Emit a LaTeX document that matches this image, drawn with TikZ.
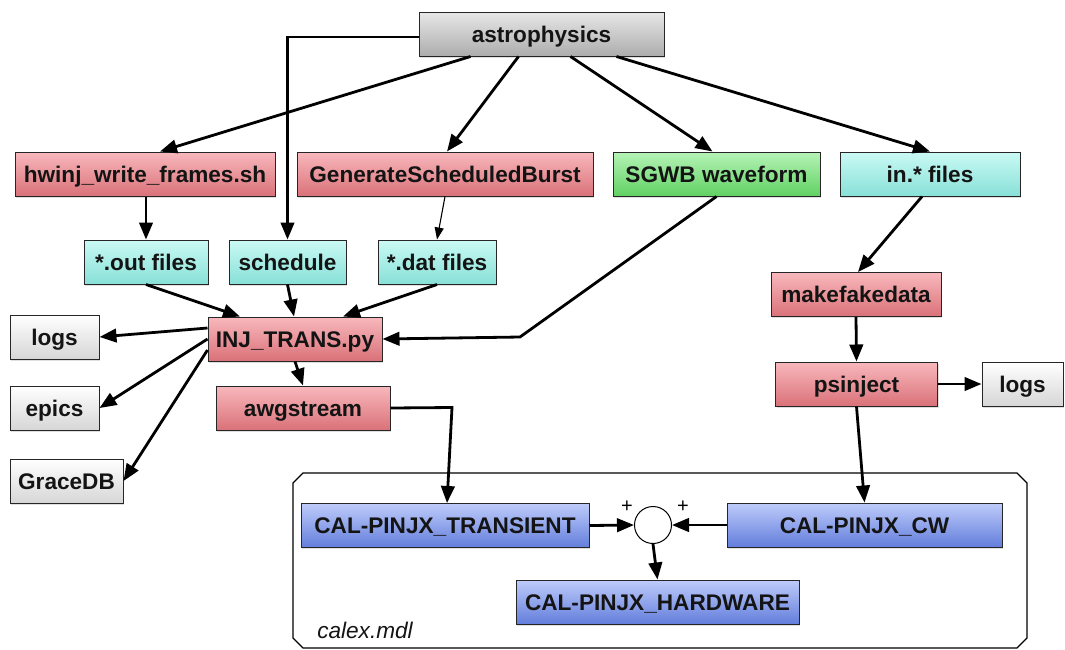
\documentclass[tikz,border=0pt]{standalone}
\usepackage{fontspec}
\setmainfont{Liberation Sans}
\usetikzlibrary{arrows.meta,calc,shadows}
\definecolor{cred}{RGB}{242,126,134}
\definecolor{ccyan}{RGB}{148,244,234}
\definecolor{cgreen}{RGB}{108,232,110}
\definecolor{cblue}{RGB}{110,140,244}
\definecolor{cgray}{RGB}{196,196,196}
\tikzset{
  box/.style={draw=black!85, line width=1pt, minimum height=44pt, inner sep=0pt,
    text height=20pt, text depth=4pt,
    font=\fontsize{22.6}{26}\selectfont\bfseries, text=black!92,
    drop shadow={shadow xshift=1pt,shadow yshift=-1.5pt,opacity=0.25}},
  redbox/.style={box, top color=cred!55!white, middle color=cred, bottom color=cred!90!black},
  cyanbox/.style={box, top color=ccyan!50!white, middle color=ccyan, bottom color=ccyan!92!black},
  greenbox/.style={box, top color=cgreen!50!white, middle color=cgreen, bottom color=cgreen!90!black},
  bluebox/.style={box, top color=cblue!45!white, middle color=cblue, bottom color=cblue!90!black},
  graybox/.style={box, top color=cgray!40!white, middle color=cgray, bottom color=cgray!88!black},
  whitebox/.style={box, top color=white, middle color=white, bottom color=black!16},
  arr/.style={line width=2.8pt, -{Triangle[length=17pt,width=13.5pt]}},
  thinarr/.style={line width=1.1pt, -{Triangle[length=12pt,width=9pt]}},
  plus/.style={font=\fontsize{20}{22}\selectfont, inner sep=0pt},
  sumnode/.style={circle, draw=black, line width=1pt, fill=white, minimum size=37pt, inner sep=0pt},
  frametext/.style={font=\fontsize{22.6}{26}\selectfont\itshape, text=black!92, inner sep=0pt},
}
\begin{document}
\begin{tikzpicture}[x=1pt,y=-1pt]
\useasboundingbox (0,0) rectangle (1065,649);
% frame
\draw[line width=1.2pt] (293,483) -- (303,473) -- (1017,473) -- (1027,483) -- (1027,638) -- (1017,648) -- (303,648) -- (293,638) -- cycle;
\node[frametext] (calex) at (365,630) {calex.mdl};

% nodes
\node[graybox, minimum width=245pt] (astro) at (541.5,34) {astrophysics};
\node[redbox, minimum width=260pt] (hwinj) at (145,174) {hwinj\_write\_frames.sh};
\node[redbox, minimum width=296pt] (gsb) at (445,174) {GenerateScheduledBurst};
\node[greenbox, minimum width=207pt] (sgwb) at (716.5,174) {SGWB waveform};
\node[cyanbox, minimum width=180pt] (inf) at (930,174) {in.* files};
\node[cyanbox, minimum width=124pt] (out) at (146,262) {*.out files};
\node[cyanbox, minimum width=117pt] (sched) at (287.5,262) {schedule};
\node[cyanbox, minimum width=118pt] (dat) at (437,262) {*.dat files};
\node[redbox, minimum width=174pt] (inj) at (295,339) {INJ\_TRANS.py};
\node[whitebox, minimum width=89pt] (logsA) at (54.5,337) {logs};
\node[whitebox, minimum width=89pt] (epics) at (54.5,408) {epics};
\node[whitebox, minimum width=113pt] (grace) at (66.5,481) {GraceDB};
\node[redbox, minimum width=174pt] (awg) at (303,408) {awgstream};
\node[redbox, minimum width=170pt] (mfd) at (856,294.5) {makefakedata};
\node[redbox, minimum width=162pt] (psi) at (856.5,384) {psinject};
\node[whitebox, minimum width=81pt] (logsB) at (1022.5,384) {logs};
\node[bluebox, minimum width=288pt] (trans) at (445,525.5) {CAL-PINJX\_TRANSIENT};
\node[bluebox, minimum width=275pt] (cw) at (864.5,525) {CAL-PINJX\_CW};
\node[bluebox, minimum width=283pt] (hw) at (657.5,602) {CAL-PINJX\_HARDWARE};
\node[sumnode] (sum) at (653,525) {};
\node[plus] (plusL) at (627,507) {+};
\node[plus] (plusR) at (683,507) {+};

\coordinate (kinkS) at (520,337);
\coordinate (kinkA) at (452,407.5);

% connectors
\draw[arr] ([xshift=-71pt]astro.south) -- ([xshift=15pt]hwinj.north);
\draw[arr] ([xshift=-23pt]astro.south) -- ([xshift=2pt]gsb.north);
\draw[arr] ([xshift=29pt]astro.south) -- ([xshift=-4pt]sgwb.north);
\draw[arr] ([xshift=75pt]astro.south) -- (inf.north);
\draw[arr] ([yshift=-3pt]astro.west) -| (sched.north);
\draw[arr] (out.north |- hwinj.south) -- (out.north);
\draw[thinarr] (gsb.south) -- (dat.north);
\draw[arr] (out.south) -- ([xshift=-55pt]inj.north);
\draw[arr] (sched.south) -- ([xshift=-1pt]inj.north);
\draw[arr] (dat.south) -- ([xshift=48pt]inj.north);
\draw[arr] (sgwb.south) -- (kinkS) -- (inj.east);
\draw[arr] ([yshift=11pt]inj.west) -- (logsA.east);
\draw[arr] (inj.west) -- (epics.east);
\draw[arr] ([yshift=-11pt]inj.west) -- (grace.east);
\draw[arr] (inj.south) -- (awg.north);
\draw[arr] (awg.east) -- (kinkA) -- ([xshift=2pt]trans.north);
\draw[arr] ([xshift=-8pt]inf.south) -- ([xshift=2pt]mfd.north);
\draw[arr] (mfd.south) -- (psi.north);
\draw[arr] (psi.east) -- (logsB.west);
\draw[arr] (psi.south) -- (cw.north);
\draw[arr] (trans.east) -- (sum.west);
\draw[arr] (cw.west) -- (sum.east);
\draw[arr] (sum.south) -- (hw.north);
\end{tikzpicture}
\end{document}
